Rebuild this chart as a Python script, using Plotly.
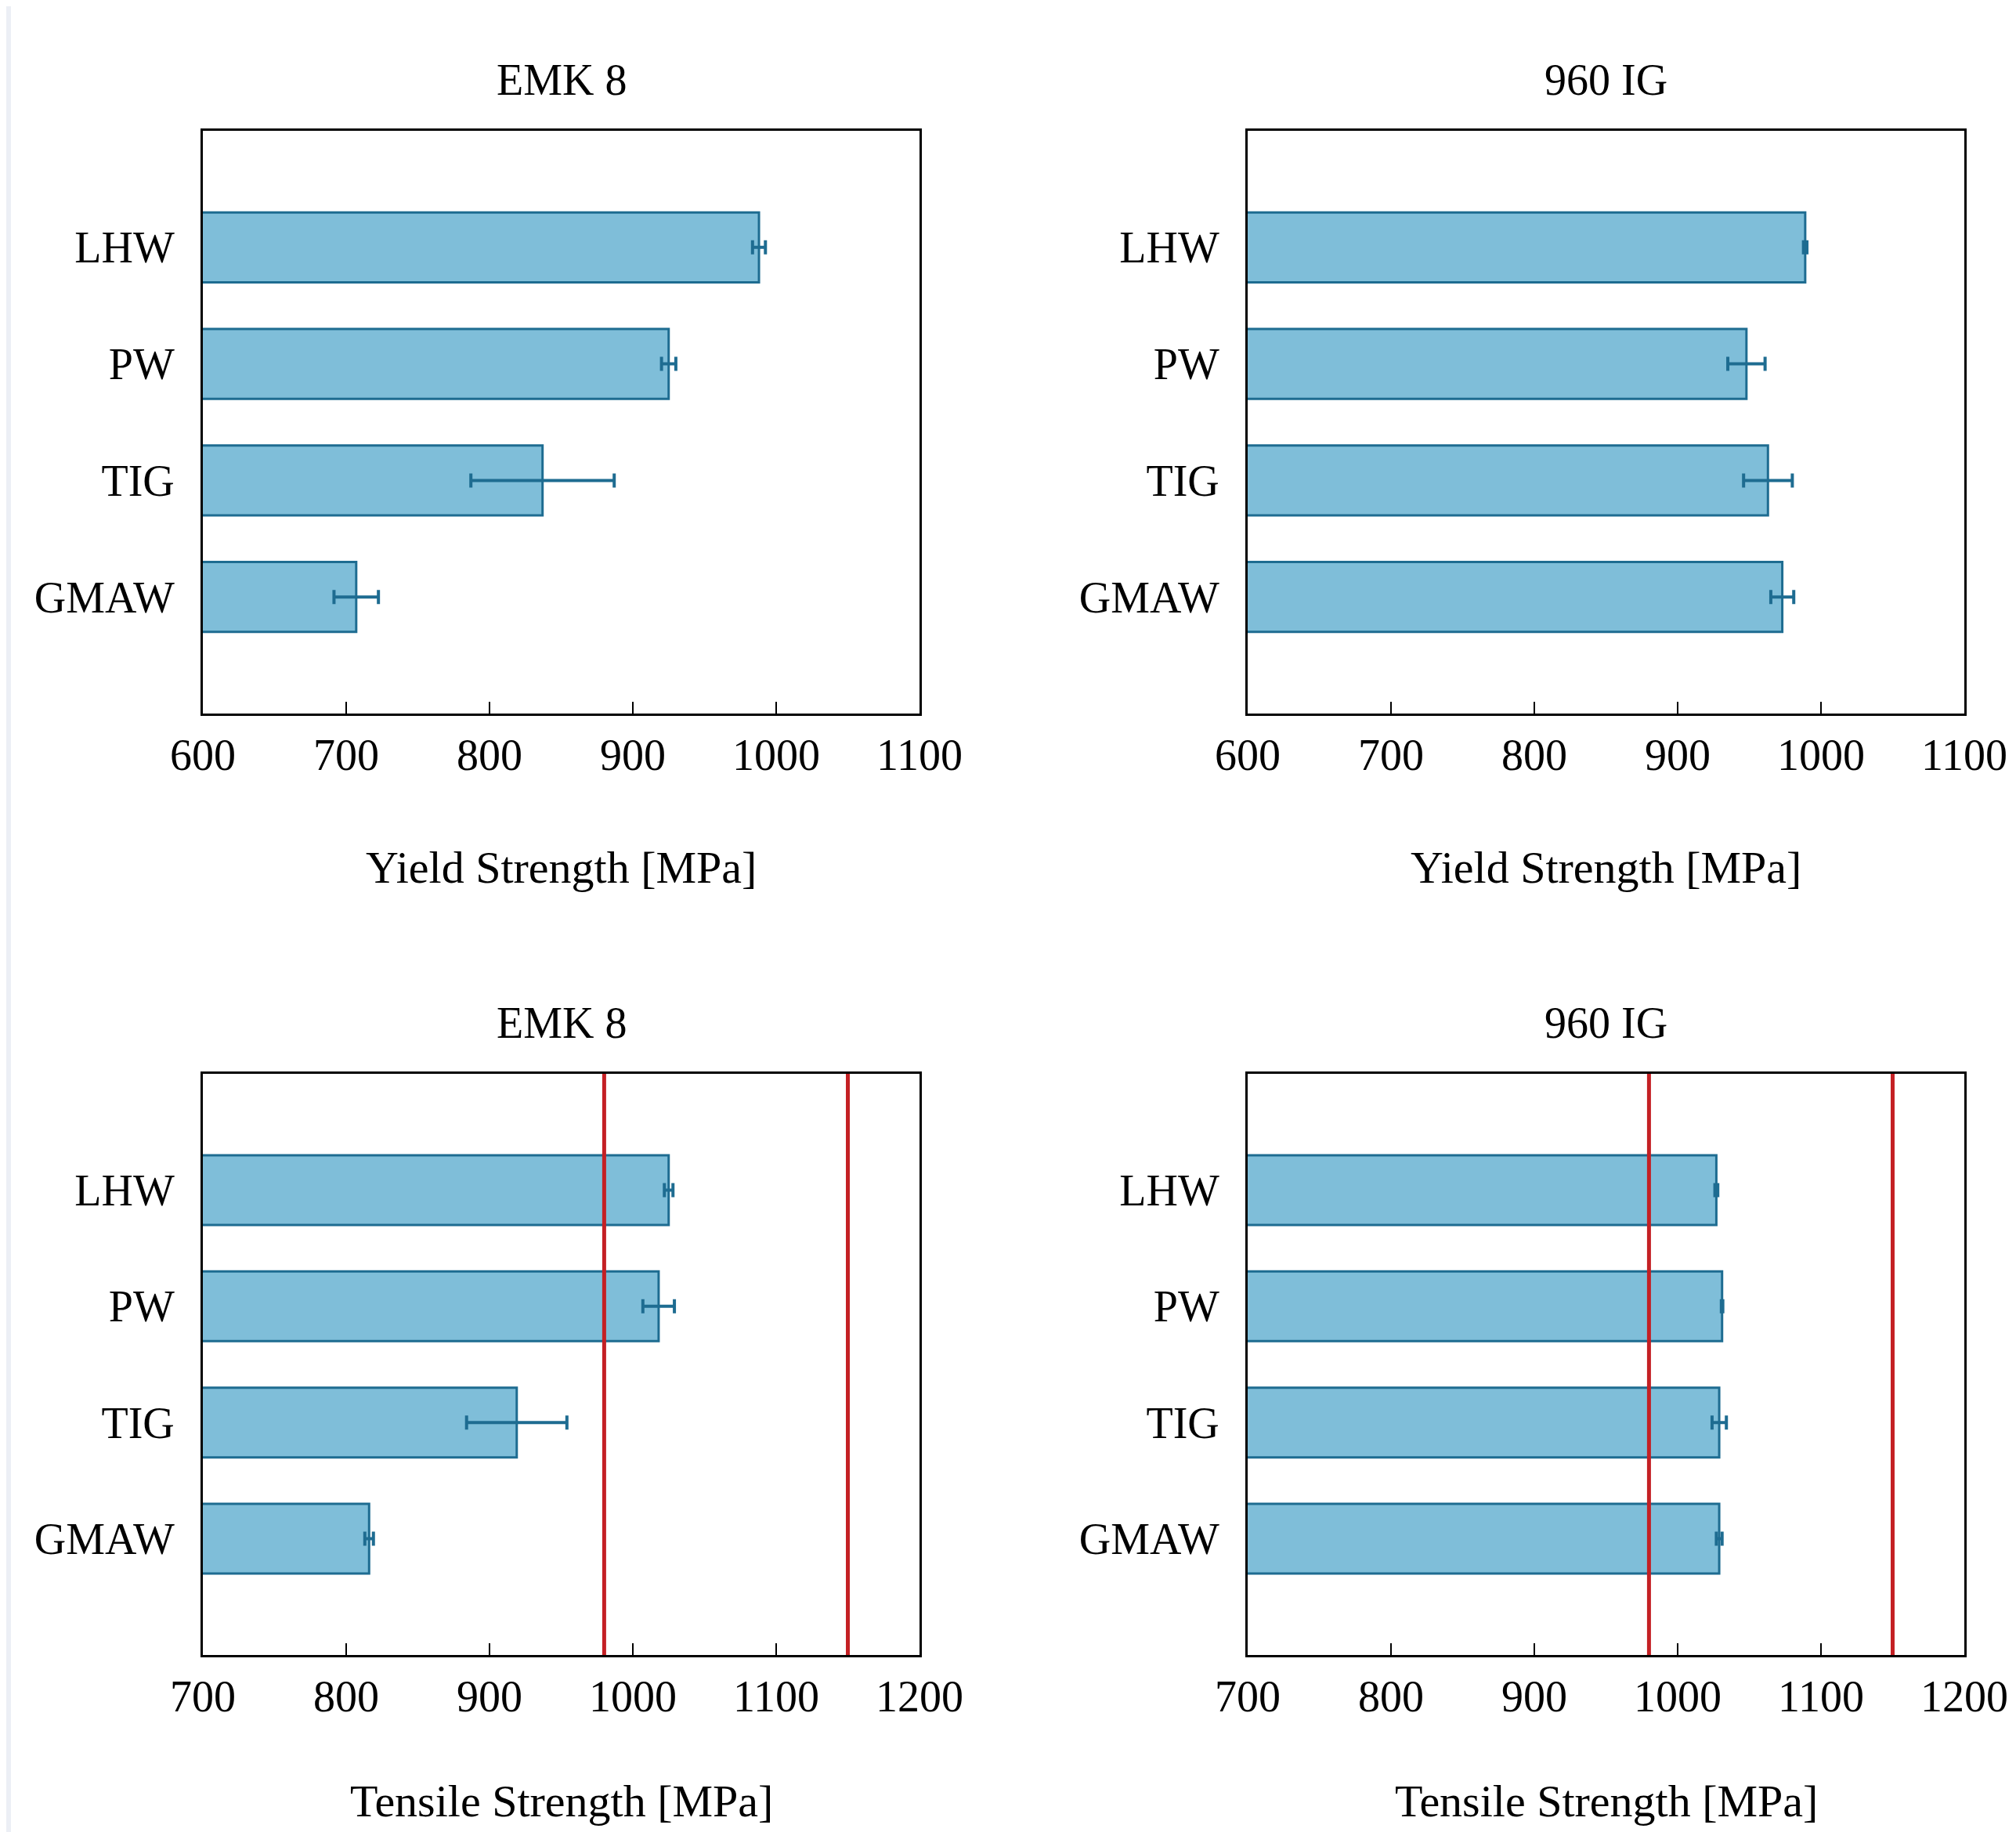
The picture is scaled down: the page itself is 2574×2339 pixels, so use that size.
import plotly.graph_objects as go

# ---------------- data ----------------
categories = ["GMAW", "TIG", "PW", "LHW"]          # bottom -> top
panel_titles = ["EMK 8", "960 IG", "EMK 8", "960 IG"]
x_titles = ["Yield Strength [MPa]", "Yield Strength [MPa]",
            "Tensile Strength [MPa]", "Tensile Strength [MPa]"]

yield_emk8 = [707, 837, 925, 988]
yield_emk8_err = [15.5, 50, 5, 4.5]
yield_960ig = [973, 963, 948, 989]
yield_960ig_err = [8, 17, 13, 1.2]

tensile_emk8 = [816, 919, 1018, 1025]
tensile_emk8_err = [3, 35, 11, 3]
tensile_960ig = [1029, 1029, 1031, 1027]
tensile_960ig_err = [2, 5, 0.5, 1]

tensile_limits = [980, 1150]

yield_ticks = [600, 700, 800, 900, 1000, 1100]
tensile_ticks = [700, 800, 900, 1000, 1100, 1200]

# ---------------- style ----------------
FONT = "Liberation Serif"
FS = 56
BAR_FILL = "rgb(127,190,217)"
BAR_EDGE = "rgb(30,108,145)"
RED = "rgb(196,32,36)"

W, H = 2574, 2339
OFF = 8  # page body margin offset
xdom_left = [(259 - OFF) / W, (1174 - OFF) / W]
xdom_right = [(1593 - OFF) / W, (2508 - OFF) / W]
ydom_top = [1 - (911 - OFF) / H, 1 - (167 - OFF) / H]
ydom_bot = [1 - (2113 - OFF) / H, 1 - (1371 - OFF) / H]

fig = go.Figure()

panels = [
    (yield_emk8, yield_emk8_err, "x", "y", xdom_left, ydom_top, yield_ticks),
    (yield_960ig, yield_960ig_err, "x2", "y2", xdom_right, ydom_top, yield_ticks),
    (tensile_emk8, tensile_emk8_err, "x3", "y3", xdom_left, ydom_bot, tensile_ticks),
    (tensile_960ig, tensile_960ig_err, "x4", "y4", xdom_right, ydom_bot, tensile_ticks),
]

layout_axes = {}
for i, (vals, errs, xa, ya, xd, yd, ticks) in enumerate(panels):
    fig.add_trace(go.Bar(
        x=vals, y=categories, orientation="h",
        xaxis=xa, yaxis=ya, width=0.6,
        marker=dict(color=BAR_FILL, line=dict(color=BAR_EDGE, width=3)),
        error_x=dict(type="data", array=errs, visible=True,
                     color=BAR_EDGE, thickness=4, width=9),
        showlegend=False, hoverinfo="x+y",
    ))
    xkey = "xaxis" if xa == "x" else "xaxis" + xa[1:]
    ykey = "yaxis" if ya == "y" else "yaxis" + ya[1:]
    layout_axes[xkey] = dict(
        domain=xd, anchor=ya, range=[ticks[0], ticks[-1]],
        tickvals=ticks, ticktext=[str(t) for t in ticks],
        ticks="inside", ticklen=15, tickwidth=2, tickcolor="black",
        showline=True, linecolor="black", linewidth=3, mirror=True,
        showgrid=False, zeroline=False, automargin=False,
        tickfont=dict(family=FONT, size=FS, color="black"),
        ticklabelstandoff=2,
    )
    layout_axes[ykey] = dict(
        domain=yd, anchor=xa, type="category",
        categoryorder="array", categoryarray=categories,
        range=[-1, 4], automargin=False,
        showline=True, linecolor="black", linewidth=3, mirror=True,
        showgrid=False, zeroline=False, ticks="",
        tickfont=dict(family=FONT, size=FS, color="black"),
        ticklabelstandoff=22,
    )
    # panel title
    fig.add_annotation(
        text=panel_titles[i], xref="paper", yref="paper",
        x=(xd[0] + xd[1]) / 2, y=yd[1] + 65 / H,
        xanchor="center", yanchor="middle", showarrow=False,
        font=dict(family=FONT, size=FS, color="black"),
    )
    # x-axis title (lower row nudged up slightly to stay on the page)
    gap = 196 if i < 2 else 186
    fig.add_annotation(
        text=x_titles[i], xref="paper", yref="paper",
        x=(xd[0] + xd[1]) / 2, y=yd[0] - gap / H,
        xanchor="center", yanchor="middle", showarrow=False,
        font=dict(family=FONT, size=58, color="black"),
    )

# tensile strength limit lines in lower panels
for xa, ya in [("x3", "y3"), ("x4", "y4")]:
    for lim in tensile_limits:
        fig.add_shape(type="line", xref=xa, yref=ya + " domain",
                      x0=lim, x1=lim, y0=0, y1=1,
                      line=dict(color=RED, width=5), layer="above")

# light grey strip at the left page edge
fig.add_shape(type="rect", xref="paper", yref="paper",
              x0=0, x1=6 / W, y0=0, y1=1, line=dict(width=0),
              fillcolor="rgb(236,239,245)", layer="below")

fig.update_layout(
    width=W, height=H,
    margin=dict(l=0, r=0, t=0, b=0, autoexpand=False),
    paper_bgcolor="white", plot_bgcolor="white",
    font=dict(family=FONT, size=FS, color="black"),
    bargap=0.4,
    **layout_axes,
)

fig.write_html("out.html")
